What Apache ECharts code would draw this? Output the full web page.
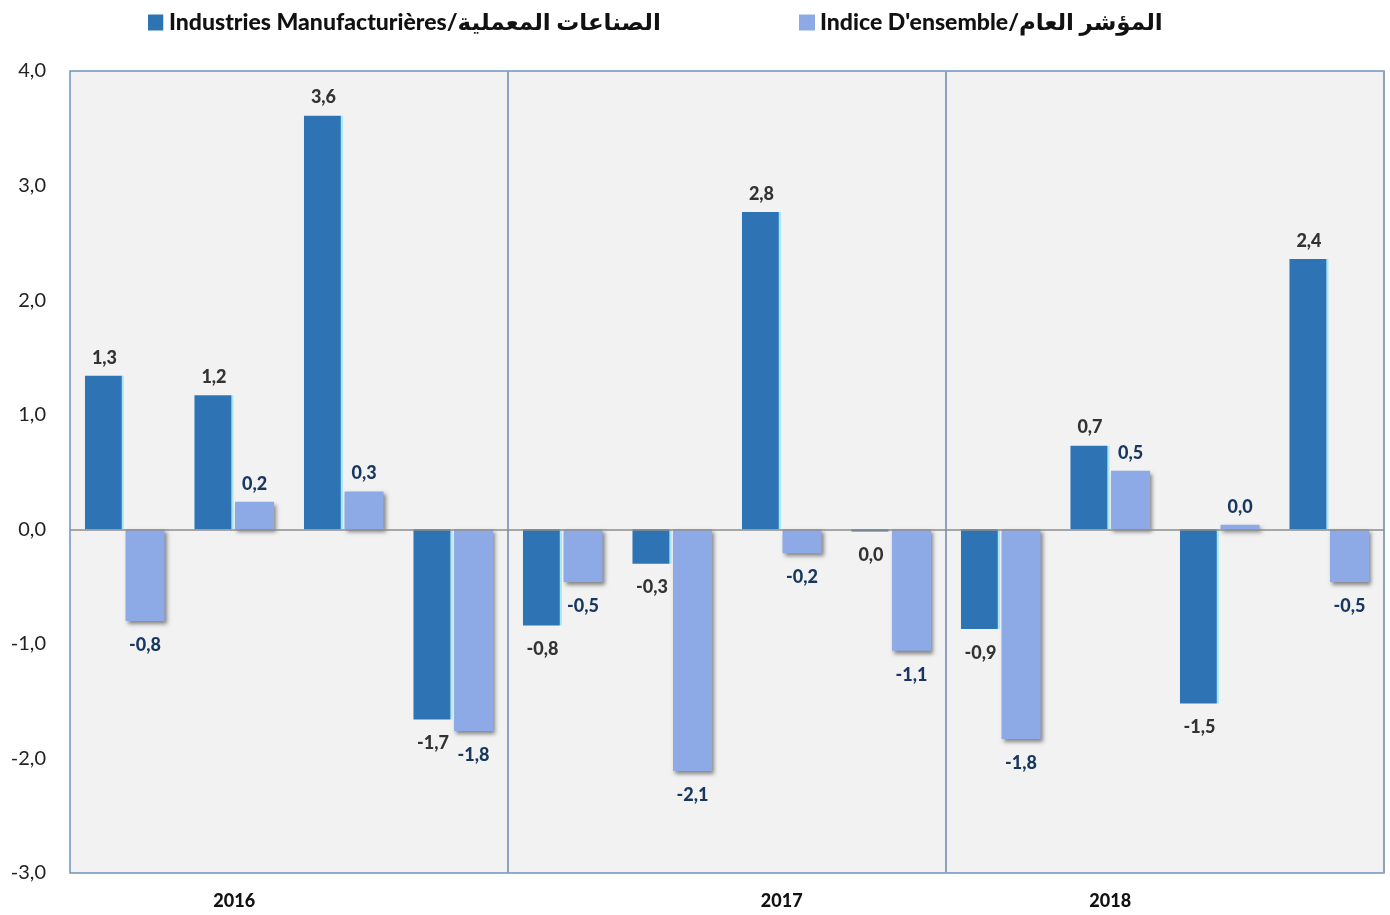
<!DOCTYPE html>
<html>
<head>
<meta charset="utf-8">
<script src="https://cdn.jsdelivr.net/npm/echarts@6/dist/echarts.min.js"></script>
<style>html,body{margin:0;padding:0;background:#fff}#c{width:1390px;height:915px}</style>
</head>
<body>
<div id="c"></div>
<script>
// Quarters 2016 Q1 .. 2018 Q4 ; year label shown at a single category of each year
const categories = ['', '2016', '', '', '', '', '2017', '', '', '2018', '', ''];
const seriesNames = ['Industries Manufacturières/الصناعات المعملية', "Indice D'ensemble/المؤشر العام"];
const manufValues = [1.34, 1.17, 3.61, -1.66, -0.84, -0.30, 2.77, -0.02, -0.87, 0.73, -1.52, 2.36];
const indiceValues = [-0.80, 0.24, 0.33, -1.76, -0.46, -2.11, -0.21, -1.06, -1.83, 0.51, 0.04, -0.46];
const yMin = -3, yMax = 4, yStep = 1;

const FONT = 'Lato, "DejaVu Sans", sans-serif';
function fmt(v) {
  let s = Number(v).toFixed(1);
  if (s === '-0.0') s = '0.0';
  return s.replace('.', ',');
}
function mkData(arr, distPos, distNeg) {
  return arr.map(v => ({
    value: v,
    label: { position: v < 0 ? 'bottom' : 'top', distance: v < 0 ? distNeg : distPos }
  }));
}

const chart = echarts.init(document.getElementById('c'), null, { renderer: 'canvas' });
chart.setOption({
  animation: false,
  backgroundColor: '#ffffff',
  legend: [
    {
      data: [seriesNames[0]], left: 143, top: 6, itemWidth: 16, itemHeight: 16, itemGap: 6,
      icon: 'rect',
      textStyle: { fontFamily: FONT, fontSize: 23, fontWeight: 900, color: '#111' }
    },
    {
      data: [seriesNames[1]], left: 794, top: 6, itemWidth: 16, itemHeight: 16, itemGap: 6,
      icon: 'rect',
      textStyle: { fontFamily: FONT, fontSize: 23, fontWeight: 900, color: '#111' }
    }
  ],
  grid: {
    left: 70, right: 6, top: 71, bottom: 42,
    show: true, backgroundColor: '#F2F2F2', borderColor: '#6F93C4', borderWidth: 1.5
  },
  xAxis: {
    type: 'category',
    data: categories,
    axisLine: { show: false },
    axisTick: { show: false },
    axisLabel: {
      interval: 0, margin: 19,
      fontFamily: FONT, fontSize: 18, fontWeight: 900, color: '#111'
    },
    splitLine: {
      show: true,
      interval: function (i) { return i === 4 || i === 8; },
      lineStyle: { color: '#8DA2BB', width: 2 }
    }
  },
  yAxis: {
    type: 'value', min: yMin, max: yMax, interval: yStep,
    axisLine: { show: false }, axisTick: { show: false },
    splitLine: { show: false },
    axisLabel: {
      margin: 24, fontFamily: FONT, fontSize: 20, color: '#222',
      formatter: fmt
    }
  },
  series: [
    {
      name: seriesNames[0], type: 'bar',
      barWidth: 39, barGap: '4%',
      itemStyle: {
        color: {
          type: 'linear', x: 0, y: 0, x2: 1, y2: 0,
          colorStops: [
            { offset: 0, color: '#2E74B5' },
            { offset: 0.93, color: '#2E74B5' },
            { offset: 0.96, color: '#A8E8F8' },
            { offset: 1, color: '#A8E8F8' }
          ]
        }
      },
      label: {
        show: true, fontFamily: FONT, fontSize: 18, fontWeight: 900, color: '#333',
        formatter: p => fmt(p.value)
      },
      data: mkData(manufValues, 9, 15),
      markLine: {
        silent: true, symbol: 'none', label: { show: false },
        lineStyle: { color: '#8C8C8C', type: 'solid', width: 1.5 },
        data: [{ yAxis: 0 }]
      }
    },
    {
      name: seriesNames[1], type: 'bar',
      barWidth: 39,
      itemStyle: {
        color: '#8EAAE6',
        shadowColor: 'rgba(0,0,0,0.45)', shadowBlur: 4, shadowOffsetX: 2, shadowOffsetY: 3
      },
      label: {
        show: true, fontFamily: FONT, fontSize: 18, fontWeight: 900, color: '#17375E',
        formatter: p => fmt(p.value)
      },
      data: mkData(indiceValues, 9, 15)
    }
  ]
});
</script>
</body>
</html>
